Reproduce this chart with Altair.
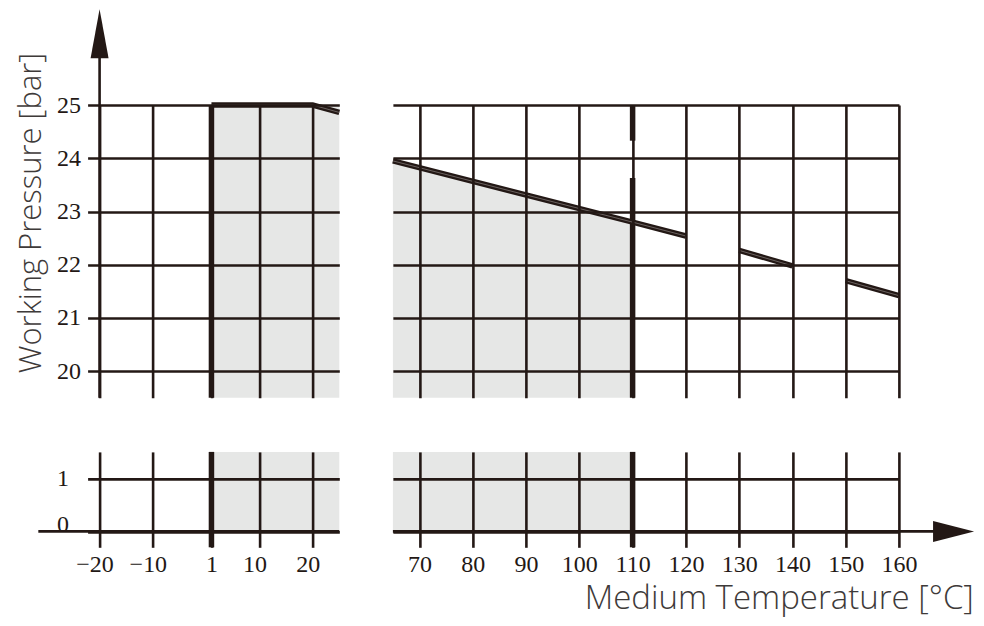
import altair as alt
import pandas as pd

# ---------------- data ----------------
x_ticks_left = [-20, -10, 1, 10, 20]
x_ticks_right = [70, 80, 90, 100, 110, 120, 130, 140, 150, 160]
y_ticks_top = [20, 21, 22, 23, 24, 25]
y_ticks_bottom = [0, 1]

# pressure curve (left part and right part, right part drawn in pieces)
curve_left_temp = [1, 20, 25]
curve_left_pres = [25.0, 25.0, 24.86]
curve_right_temp = [65, 110, 120, 130, 140, 150, 160]
curve_right_pres = [23.95, 22.80, 22.54, 22.27, 21.98, 21.70, 21.42]
curve_right_piece = [0, 0, 0, 1, 1, 2, 2]

# shaded operating range
shade_left = [1, 25]
shade_right = [65, 110]
min_temp = 1
max_temp = 110
# thick boundary at 110 (two pieces in the upper panel)
bound_top_from = [19.5, 24.33]
bound_top_to = [23.63, 25.0]

# axis break domains
x_left_domain = [-22.25, 25]
x_right_domain = [65, 160]
y_top_domain = [19.5, 25]
y_bottom_domain = [-0.3, 1.5]

# axis lines and arrows
y_axis_at = -20
y_axis_end = 25.9
y_arrow_tip = 26.8
x_axis_start = -31.5
x_axis_end = 167.0
x_arrow_tip = 174.1

INK = "#231815"
GRAY = "#e6e7e6"
TITLE = "#3e3a39"
GRID_W = 2.6
THICK_W = 5.5
SERIF = "Liberation Serif"
SANS = "Open Sans"

PX_X = 5.327
PX_Y_TOP = 53.25
PX_Y_BOT = 53.0

W_LEFT = (x_left_domain[1] - x_left_domain[0]) * PX_X
W_RIGHT = (x_right_domain[1] - x_right_domain[0]) * PX_X
H_TOP = (y_top_domain[1] - y_top_domain[0]) * PX_Y_TOP
H_BOT = (y_bottom_domain[1] - y_bottom_domain[0]) * PX_Y_BOT


def xaxis(values, labels=False, **kw):
    return alt.Axis(values=values, grid=True, gridColor=INK, gridWidth=GRID_W,
                    gridOpacity=1, labels=labels, ticks=False, tickSize=0,
                    domain=False, zindex=1, labelFont=SERIF, labelFontSize=24,
                    labelColor=INK, labelPadding=5, labelAlign="center",
                    labelFlush=False, labelOverlap=False,
                    labelExpr="datum.value < 0 ? '\u2212' + abs(datum.value) : '' + datum.value",
                    **kw)


def yaxis(values, labels=False, **kw):
    return alt.Axis(values=values, grid=True, gridColor=INK, gridWidth=GRID_W,
                    gridOpacity=1, labels=labels, ticks=False, tickSize=0,
                    domain=False, zindex=1, labelFont=SERIF, labelFontSize=24,
                    labelColor=INK, labelAlign="right", labelFlush=False,
                    labelOverlap=False, **kw)


def X(domain, axis, field="t"):
    return alt.X(f"{field}:Q", scale=alt.Scale(domain=domain, nice=False, zero=False), axis=axis)


def Y(domain, axis, field="p"):
    return alt.Y(f"{field}:Q", scale=alt.Scale(domain=domain, nice=False, zero=False), axis=axis)


up_arrow = "M0,0L0.367,2L-0.367,2Z"
right_arrow = "M0,0L-2,-0.512L-2,0.512Z"

# ---------------- top-left panel ----------------
ax_tl_x = xaxis(x_ticks_left, title=None)
ax_tl_y = yaxis(y_ticks_top, labels=True, labelPadding=7, labelBaseline="middle",
                title="Working Pressure [bar]", titleFont=SANS, titleFontSize=31,
                titleFontWeight=300, titleColor=TITLE, titleX=-47, titleY=107.5,
                titleAngle=270, titleAlign="center", titleBaseline="alphabetic")

tl_shade = alt.Chart(pd.DataFrame({"t": [shade_left[0]], "t2": [shade_left[1]],
                                   "p": [y_top_domain[0]], "p2": [y_top_domain[1]]})).mark_rect(
    color=GRAY).encode(x=X(x_left_domain, ax_tl_x), x2="t2", y=Y(y_top_domain, ax_tl_y), y2="p2")
tl_axisline = alt.Chart(pd.DataFrame({"t": [y_axis_at], "p": [y_top_domain[0]], "p2": [y_axis_end]})).mark_rule(
    color=INK, strokeWidth=GRID_W).encode(x=X(x_left_domain, ax_tl_x), y=Y(y_top_domain, ax_tl_y), y2="p2")
tl_arrow = alt.Chart(pd.DataFrame({"t": [y_axis_at], "p": [y_arrow_tip]})).mark_point(
    shape=up_arrow, size=2401, filled=True, color=INK, opacity=1, strokeWidth=0).encode(
    x=X(x_left_domain, ax_tl_x), y=Y(y_top_domain, ax_tl_y))
tl_bound = alt.Chart(pd.DataFrame({"t": [min_temp], "p": [y_top_domain[0]], "p2": [y_top_domain[1]]})).mark_rule(
    color=INK, strokeWidth=THICK_W).encode(x=X(x_left_domain, ax_tl_x), y=Y(y_top_domain, ax_tl_y), y2="p2")
tl_df = pd.DataFrame({"t": curve_left_temp, "p": curve_left_pres})
tl_line = alt.Chart(tl_df).mark_line(color=INK, strokeWidth=5.5).encode(
    x=X(x_left_domain, ax_tl_x), y=Y(y_top_domain, ax_tl_y))
tl_line_c = alt.Chart(tl_df).mark_line(color="#9a9492", strokeWidth=0.6).encode(
    x=X(x_left_domain, ax_tl_x), y=Y(y_top_domain, ax_tl_y))
tl = alt.layer(tl_shade, tl_axisline, tl_arrow, tl_bound, tl_line, tl_line_c).properties(
    width=W_LEFT, height=H_TOP)

# ---------------- top-right panel ----------------
ax_tr_x = xaxis(x_ticks_right, title=None)
ax_tr_y = yaxis(y_ticks_top, title=None)
tr_df = pd.DataFrame({"t": curve_right_temp, "p": curve_right_pres, "piece": curve_right_piece})
tr_area_df = tr_df[(tr_df.t >= shade_right[0]) & (tr_df.t <= shade_right[1])].assign(p2=y_top_domain[0])
tr_area = alt.Chart(tr_area_df).mark_area(color=GRAY, opacity=1).encode(
    x=X(x_right_domain, ax_tr_x), y=Y(y_top_domain, ax_tr_y), y2="p2")
tr_bound = alt.Chart(pd.DataFrame({"t": [max_temp, max_temp], "p": bound_top_from, "p2": bound_top_to})).mark_rule(
    color=INK, strokeWidth=THICK_W).encode(x=X(x_right_domain, ax_tr_x), y=Y(y_top_domain, ax_tr_y), y2="p2")
tr_line = alt.Chart(tr_df).mark_line(color=INK, strokeWidth=5.5).encode(
    x=X(x_right_domain, ax_tr_x), y=Y(y_top_domain, ax_tr_y), detail="piece:N")
tr_line_c = alt.Chart(tr_df).mark_line(color="#9a9492", strokeWidth=0.6).encode(
    x=X(x_right_domain, ax_tr_x), y=Y(y_top_domain, ax_tr_y), detail="piece:N")
tr = alt.layer(tr_area, tr_bound, tr_line, tr_line_c).properties(width=W_RIGHT, height=H_TOP)

# ---------------- bottom-left panel ----------------
ax_bl_x = xaxis(x_ticks_left, labels=True, title=None,
                labelOffset={"condition": {"test": "datum.value == 1", "value": 0}, "value": -5})
ax_bl_y = yaxis(y_ticks_bottom, labels=True, labelPadding=19,
                labelBaseline={"condition": {"test": "datum.value == 0", "value": "alphabetic"},
                               "value": "middle"}, title=None)
bl_shade = alt.Chart(pd.DataFrame({"t": [shade_left[0]], "t2": [shade_left[1]],
                                   "p": [0], "p2": [y_bottom_domain[1]]})).mark_rect(
    color=GRAY).encode(x=X(x_left_domain, ax_bl_x), x2="t2", y=Y(y_bottom_domain, ax_bl_y), y2="p2")
bl_axisline = alt.Chart(pd.DataFrame({"t": [x_axis_start], "t2": [x_left_domain[1]], "p": [0]})).mark_rule(
    color=INK, strokeWidth=GRID_W).encode(x=X(x_left_domain, ax_bl_x), x2="t2", y=Y(y_bottom_domain, ax_bl_y))
bl_bound = alt.Chart(pd.DataFrame({"t": [min_temp], "p": [y_bottom_domain[0]], "p2": [y_bottom_domain[1]]})).mark_rule(
    color=INK, strokeWidth=THICK_W).encode(x=X(x_left_domain, ax_bl_x), y=Y(y_bottom_domain, ax_bl_y), y2="p2")
bl = alt.layer(bl_shade, bl_axisline, bl_bound).properties(width=W_LEFT, height=H_BOT)

# ---------------- bottom-right panel ----------------
ax_br_x = xaxis(x_ticks_right, labels=True,
                title="Medium Temperature [°C]", titleFont=SANS, titleFontSize=33,
                titleFontWeight=300, titleColor=TITLE, titleX=580.5, titleY=61.5,
                titleAngle=0, titleAlign="right", titleBaseline="alphabetic")
ax_br_y = yaxis(y_ticks_bottom, title=None)
br_shade = alt.Chart(pd.DataFrame({"t": [shade_right[0]], "t2": [shade_right[1]],
                                   "p": [0], "p2": [y_bottom_domain[1]]})).mark_rect(
    color=GRAY).encode(x=X(x_right_domain, ax_br_x), x2="t2", y=Y(y_bottom_domain, ax_br_y), y2="p2")
br_axisline = alt.Chart(pd.DataFrame({"t": [x_right_domain[0]], "t2": [x_axis_end], "p": [0]})).mark_rule(
    color=INK, strokeWidth=GRID_W).encode(x=X(x_right_domain, ax_br_x), x2="t2", y=Y(y_bottom_domain, ax_br_y))
br_arrow = alt.Chart(pd.DataFrame({"t": [x_arrow_tip], "p": [0]})).mark_point(
    shape=right_arrow, size=1681, filled=True, color=INK, opacity=1, strokeWidth=0).encode(
    x=X(x_right_domain, ax_br_x), y=Y(y_bottom_domain, ax_br_y))
br_bound = alt.Chart(pd.DataFrame({"t": [max_temp], "p": [y_bottom_domain[0]], "p2": [y_bottom_domain[1]]})).mark_rule(
    color=INK, strokeWidth=THICK_W).encode(x=X(x_right_domain, ax_br_x), y=Y(y_bottom_domain, ax_br_y), y2="p2")
br = alt.layer(br_shade, br_axisline, br_arrow, br_bound).properties(width=W_RIGHT, height=H_BOT)

chart = alt.concat(tl, tr, bl, br, columns=2, spacing={"row": 53.9, "column": 53.3},
                   bounds="flush", align="each").properties(
    padding={"left": 6.6, "top": 0, "right": 0, "bottom": 5.5}
).configure_view(stroke="transparent")

chart.save("out.html", embed_options={"renderer": "svg", "actions": False})
